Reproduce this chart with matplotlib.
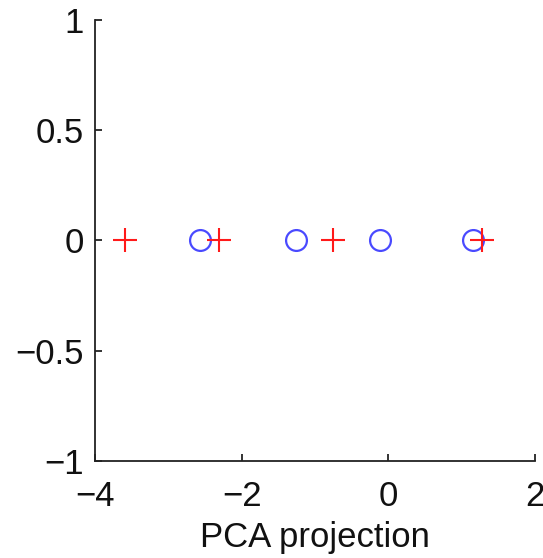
import matplotlib
matplotlib.use("Agg")
import matplotlib.pyplot as plt

plt.rcParams['font.family'] = ['Liberation Sans', 'DejaVu Sans']

# 1-D PCA projections of the two classes
class_plus_x = [-3.585, -2.31, -0.748, 1.285]
class_circle_x = [-2.562, -1.252, -0.116, 1.157]
class_plus_y = [0, 0, 0, 0]
class_circle_y = [0, 0, 0, 0]

xticks = [-4, -2, 0, 2]
yticks = [-1, -0.5, 0, 0.5, 1]
ytick_labels = ['\u22121', '\u22120.5', '0', '0.5', '1']
xtick_labels = ['\u22124', '\u22122', '0', '2']

fig = plt.figure(figsize=(5.43, 5.58), dpi=100)
ax = fig.add_axes([0.175, 0.1744, 0.81, 0.7896])

ax.plot(class_circle_x, class_circle_y, linestyle='none', marker='o',
        markersize=15, markerfacecolor='none', markeredgecolor='#4a4aff',
        markeredgewidth=1.6, zorder=2)
ax.plot(class_plus_x, class_plus_y, linestyle='none', marker='+',
        markersize=17, markeredgecolor='#ff1a1a', markeredgewidth=1.5, zorder=3)

ax.set_xlim(-4, 2)
ax.set_ylim(-1, 1)
ax.set_xticks(xticks)
ax.set_xticklabels(xtick_labels)
ax.set_yticks(yticks)
ax.set_yticklabels(ytick_labels)

for side in ('top', 'right'):
    ax.spines[side].set_visible(False)
for side in ('left', 'bottom'):
    ax.spines[side].set_linewidth(1.3)
    ax.spines[side].set_color('#222222')

ax.tick_params(direction='in', length=5, width=1.2, labelsize=25,
               colors='#111111')
ax.tick_params(axis='x', pad=14)
ax.tick_params(axis='y', pad=8)
ax.set_xlabel('PCA projection', fontsize=25, labelpad=6, color='#111111')

fig.savefig('out.png', dpi=100)
